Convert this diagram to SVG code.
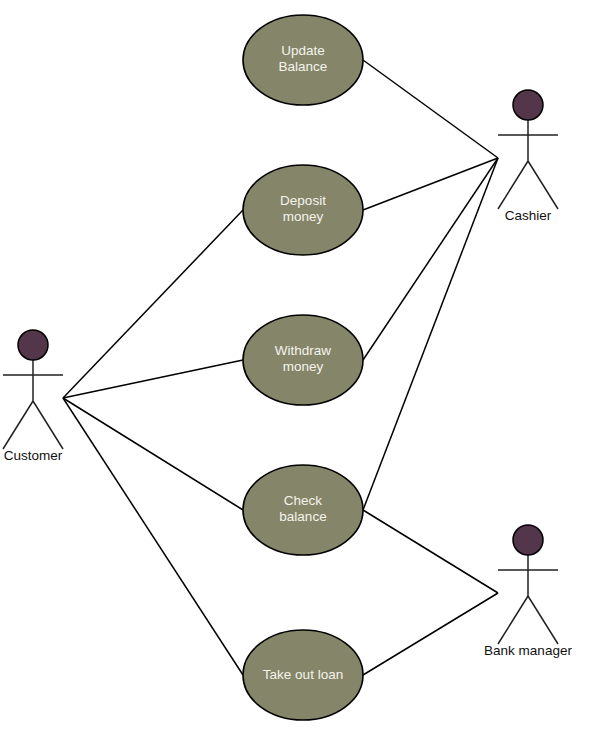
<svg xmlns="http://www.w3.org/2000/svg" width="590" height="736" viewBox="0 0 590 736">
<style>
.bg{fill:#fff}
.uc{fill:#85856a;stroke:#000;stroke-width:1.6}
.ut{fill:#f4f4ea;font:13.5px "Liberation Sans",Arial,sans-serif;text-anchor:middle}
.head{fill:#54364a;stroke:#000;stroke-width:1.5}
.body{fill:none;stroke:#222;stroke-width:1.5}
.lab{fill:#111;font:13.5px "Liberation Sans",Arial,sans-serif;text-anchor:middle}
.conn{fill:none;stroke:#000;stroke-width:1.5}
</style>
<rect class="bg" width="590" height="736"/>
<g id="connectors" class="conn">
<path d="M363 60L498 158"/>
<path d="M363 210L498 158"/>
<path d="M363 360L498 158"/>
<path d="M363 510L498 158"/>
<path d="M363 510L498 593"/>
<path d="M363 675L498 593"/>
<path d="M63 398L243 210"/>
<path d="M63 398L243 360"/>
<path d="M63 398L243 510"/>
<path d="M63 398L243 675"/>
</g>
<g id="update-balance"><ellipse class="uc" cx="303" cy="60" rx="60" ry="45"/><text class="ut" x="303" y="55">Update</text><text class="ut" x="303" y="71">Balance</text></g>
<g id="deposit-money"><ellipse class="uc" cx="303" cy="210" rx="60" ry="45"/><text class="ut" x="303" y="205">Deposit</text><text class="ut" x="303" y="221">money</text></g>
<g id="withdraw-money"><ellipse class="uc" cx="303" cy="360" rx="60" ry="45"/><text class="ut" x="303" y="355">Withdraw</text><text class="ut" x="303" y="371">money</text></g>
<g id="check-balance"><ellipse class="uc" cx="303" cy="510" rx="60" ry="45"/><text class="ut" x="303" y="505">Check</text><text class="ut" x="303" y="521">balance</text></g>
<g id="take-out-loan"><ellipse class="uc" cx="303" cy="675" rx="60" ry="45"/><text class="ut" x="303" y="679">Take out loan</text></g>
<g id="cashier"><path class="body" d="M528 120V161M498 135H558M498 209L528 161L558 209"/><circle class="head" cx="528" cy="105" r="15"/><text class="lab" x="528" y="220">Cashier</text></g>
<g id="customer"><path class="body" d="M33 360V401M3 375H63M3 449L33 401L63 449"/><circle class="head" cx="33" cy="345" r="15"/><text class="lab" x="33" y="460">Customer</text></g>
<g id="bank-manager"><path class="body" d="M528 555V596M498 570H558M498 644L528 596L558 644"/><circle class="head" cx="528" cy="540" r="15"/><text class="lab" x="528" y="655">Bank manager</text></g>
</svg>
